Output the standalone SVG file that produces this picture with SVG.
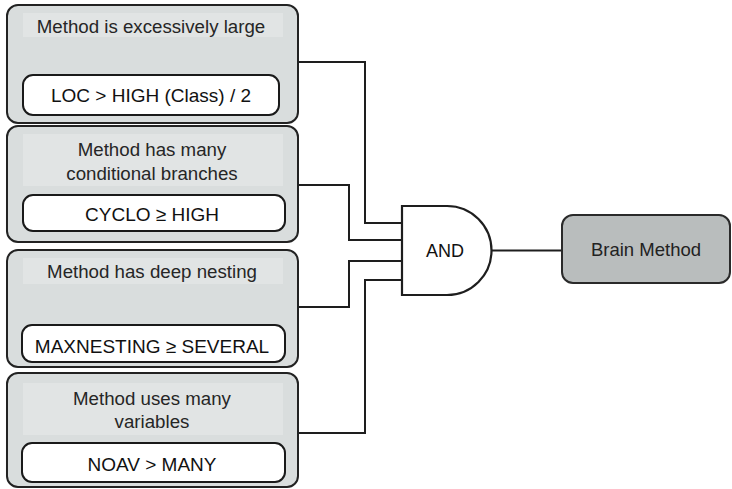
<svg xmlns="http://www.w3.org/2000/svg" width="732" height="489" viewBox="0 0 732 489">
  <style>
    .outer { fill: #d9dddd; stroke: #222; stroke-width: 2; }
    .glow { fill: #e1e4e4; stroke: none; }
    .inner { fill: #ffffff; stroke: #1a1a1a; stroke-width: 2; }
    .title { font-family: "Liberation Sans", Arial, sans-serif; font-size: 18.7px; fill: #262626; text-anchor: middle; }
    .cond { font-family: "Liberation Sans", Arial, sans-serif; font-size: 19px; fill: #111; text-anchor: middle; }
    .wire { fill: none; stroke: #1e1e1e; stroke-width: 2; }
    .gate { fill: #ffffff; stroke: #1e1e1e; stroke-width: 2.2; }
    .result { fill: #b9bdbd; stroke: #2a2a2a; stroke-width: 2; }
  </style>
  <rect width="732" height="489" fill="#ffffff"/>

  <g id="connectors">
    <polyline class="wire" points="298,62 365,62 365,223 403,223"/>
    <polyline class="wire" points="298,185 349,185 349,240 403,240"/>
    <polyline class="wire" points="298,307 349,307 349,261 403,261"/>
    <polyline class="wire" points="298,433 365,433 365,280 403,280"/>
    <line class="wire" x1="492" y1="250.5" x2="562" y2="250.5"/>
  </g>

  <g id="node-large">
    <rect class="outer" x="7" y="5" width="291" height="118" rx="11"/>
    <rect class="glow" x="23" y="13" width="260" height="24"/>
    <text class="title" x="151" y="33">Method is excessively large</text>
    <rect class="inner" x="23" y="75" width="256" height="40" rx="10"/>
    <text class="cond" x="151" y="102">LOC &gt; HIGH (Class) / 2</text>
  </g>

  <g id="node-branches">
    <rect class="outer" x="7" y="126" width="291" height="116" rx="11"/>
    <rect class="glow" x="23" y="134" width="260" height="52"/>
    <text class="title" x="152" y="156">Method has many</text>
    <text class="title" x="152" y="180">conditional branches</text>
    <rect class="inner" x="23" y="195" width="262" height="36" rx="10"/>
    <text class="cond" x="152" y="221">CYCLO ≥ HIGH</text>
  </g>

  <g id="node-nesting">
    <rect class="outer" x="7" y="250" width="291" height="117" rx="11"/>
    <rect class="glow" x="23" y="258" width="260" height="26"/>
    <text class="title" x="152" y="278">Method has deep nesting</text>
    <rect class="inner" x="22" y="325" width="263" height="37" rx="10"/>
    <text class="cond" x="152" y="353">MAXNESTING ≥ SEVERAL</text>
  </g>

  <g id="node-variables">
    <rect class="outer" x="7" y="373" width="291" height="114" rx="11"/>
    <rect class="glow" x="23" y="383" width="260" height="52"/>
    <text class="title" x="152" y="405">Method uses many</text>
    <text class="title" x="152" y="428">variables</text>
    <rect class="inner" x="22" y="443" width="263" height="39" rx="10"/>
    <text class="cond" x="152" y="471">NOAV &gt; MANY</text>
  </g>

  <g id="node-and">
    <path class="gate" d="M402,206 L447,206 A44.5,44.5 0 0 1 447,295 L402,295 Z"/>
    <text class="cond" x="445" y="257" style="font-size:18px">AND</text>
  </g>

  <g id="node-brain">
    <rect class="result" x="562" y="215" width="168" height="68" rx="11"/>
    <text class="cond" x="646" y="256" style="font-size:18.5px;fill:#222">Brain Method</text>
  </g>
</svg>
